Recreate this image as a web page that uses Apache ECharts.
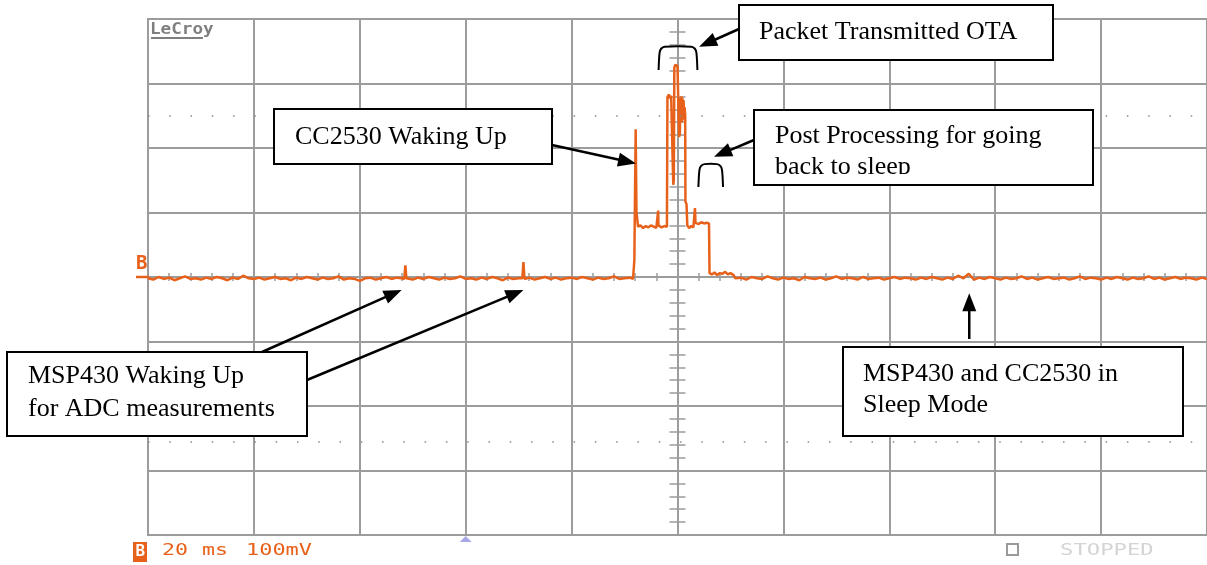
<!DOCTYPE html>
<html>
<head>
<meta charset="utf-8">
<style>
  html, body { margin: 0; padding: 0; background: #fff; }
  #chart { width: 1207px; height: 565px; }
</style>
<script src="https://cdn.jsdelivr.net/npm/echarts@6/dist/echarts.min.js"></script>
</head>
<body>
<div id="chart"></div>
<script>
// scope screen: 20 ms/div, 100 mV/div, 10 x 8 divisions
const timeRangeMs = [-100, 100]
const timePerDivMs = 20
const voltRangeMv = [-400, 400]
const voltPerDivMv = 100
const triggerTimeMs = -40
const dottedRowsMv = [250, -255]

// [time ms, mV]
const sleepBefore = [
  [-100, -2], [-99, -4], [-98, 0], [-97, -3], [-96, -1], [-95, -5], [-94, -2], [-93, 1], [-92, -3], [-91, -2],
  [-90, -4], [-89, -1], [-88, -3], [-87, 0], [-86, -2], [-85, -5], [-84, -1], [-83, -3], [-82, 2], [-81, -2],
  [-80, -3], [-79, -1], [-78, -4], [-77, -2], [-76, 0], [-75, -3], [-74, -2], [-73, -5], [-72, -1], [-71, -3],
  [-70, 0], [-69, -2], [-68, -4], [-67, -1], [-66, -3], [-65, -2], [-64, 1], [-63, -4], [-62, -2], [-61, -3],
  [-60, -6], [-59, -2], [-58, -1], [-57, -4], [-56, -2], [-55, 0], [-54, -3], [-53, -1], [-52, -2],
  [-50, -4], [-49, -1], [-48, -3], [-47, 0], [-46, -2], [-45, -4], [-44, -1], [-43, -3], [-42, -2], [-41, 1],
  [-40, -3], [-39, -2], [-38, -4], [-37, -1], [-36, -3], [-35, 0], [-34, -2], [-33, -5], [-32, -1], [-31, -3],
  [-30, -2], [-28, -1], [-27, -4], [-26, -2], [-25, 0], [-24, -3], [-23, -1], [-22, -4], [-21, -2],
  [-20, -1], [-19, -3], [-18, 0], [-17, -2], [-16, -4], [-15, -1], [-14, -3], [-13, -2], [-12, 1], [-11, -3],
  [-10, -2], [-9, -1], [-8.4, -3]
]

// MSP430 waking up for ADC measurements
const adcWakeSpikes = [
  [-51.6, -3], [-51.4, 18], [-51.2, -2],
  [-29.3, -2], [-29.1, 23], [-28.9, -3]
]

// CC2530 wake, packet OTA, post processing
const radioBurst = [
  [-8.2, -2], [-8.15, 26], [-7.95, 27], [-7.9, 229], [-7.8, 229], [-7.75, 101], [-7.5, 100], [-7.45, 78],
  [-7.0, 80], [-6.5, 76], [-6.0, 79], [-5.5, 77], [-5.0, 80], [-4.5, 78], [-4.0, 76], [-3.7, 79],
  [-3.65, 103], [-3.6, 80], [-3.0, 77], [-2.5, 79], [-2.0, 78], [-1.95, 80],
  [-1.9, 279], [-1.6, 283], [-1.4, 277], [-1.2, 281], [-0.95, 278], [-0.8, 143], [-0.7, 150],
  [-0.6, 325], [-0.4, 329], [0.0, 327], [0.25, 326], [0.3, 217], [0.45, 222],
  [0.55, 278], [0.65, 243], [0.75, 280], [0.85, 240], [0.95, 277], [1.05, 244], [1.15, 274], [1.25, 247],
  [1.35, 263], [1.45, 250], [1.5, 117], [1.7, 113], [1.85, 80],
  [2.2, 76], [2.6, 79], [3.0, 77], [3.25, 80], [3.3, 107], [3.4, 84], [4.0, 82], [4.5, 85], [5.0, 83],
  [5.5, 84], [5.95, 83], [6.05, 6], [6.5, 4], [7.0, 7], [7.5, 3], [8.0, 6], [8.5, 5], [9.0, 8],
  [9.5, 4], [10.0, 6], [10.6, 3], [10.9, -2]
]

const sleepAfter = [
  [11, -3], [12, -1], [13, -4], [14, 0], [15, -2], [16, -3], [17, 1], [18, -2], [19, -4], [20, -1],
  [21, -3], [22, -2], [23, -5], [24, 0], [25, -2], [26, -3], [27, -1], [28, -4], [29, -2], [30, 1],
  [31, -3], [32, -1], [33, -2], [34, -4], [35, 0], [36, -3], [37, -2], [38, -1], [39, -4], [40, -2],
  [41, 0], [42, -3], [43, -1], [44, -2], [45, -4], [46, -1], [47, -3], [48, 0], [49, -2], [50, -4],
  [51, -1], [52, -3], [53, 2], [54, -2], [55, 5], [56, -4], [57, -1], [58, -3], [59, 0], [60, -2],
  [61, -4], [62, -1], [63, -3], [64, -2], [65, 1], [66, -3], [67, -1], [68, -4], [69, -2], [70, 0],
  [71, -3], [72, -2], [73, -1], [74, -4], [75, -2], [76, 1], [77, -3], [78, -1], [79, -2], [80, -4],
  [81, -1], [82, -3], [83, 0], [84, -2], [85, -4], [86, -1], [87, -3], [88, -2], [89, 1], [90, -3],
  [91, -1], [92, -4], [93, -2], [94, 0], [95, -3], [96, -1], [97, -2], [98, -4], [99, -1], [100, -3]
]

const trace = [...sleepBefore, ...adcWakeSpikes, ...radioBurst, ...sleepAfter].sort((a, b) => a[0] - b[0])

const GRID = '#9c9c9c'
const ORANGE = '#e8611a'
const SERIF = '26px "Liberation Serif", "Times New Roman", serif'
const MONO = '"DejaVu Sans Mono", monospace'

const chart = echarts.init(document.getElementById('chart'))

function scopeAxis(range, step, extra) {
  return Object.assign({
    type: 'value',
    min: range[0],
    max: range[1],
    interval: step,
    axisLabel: { show: false },
    axisTick: { show: false },
  }, extra)
}

const centerTicks = (len) => ({ show: true, splitNumber: 5, length: len, lineStyle: { color: GRID, width: 1.5 } })

const option = {
  animation: false,
  backgroundColor: '#fff',
  grid: { left: 148, top: 19, width: 1064, height: 516, show: true, borderColor: GRID, borderWidth: 2 },
  xAxis: [
    scopeAxis(timeRangeMs, timePerDivMs, {
      axisLine: { onZero: true, onZeroAxisIndex: 0, lineStyle: { color: GRID, width: 2 } },
      minorTick: centerTicks(4),
      splitLine: { show: true, lineStyle: { color: GRID, width: 2 } },
    }),
    scopeAxis(timeRangeMs, timePerDivMs, {
      position: 'bottom',
      axisLine: { show: false, onZero: true, onZeroAxisIndex: 0 },
      axisTick: { show: false, inside: true },
      minorTick: centerTicks(4),
      splitLine: { show: false },
    }),
  ],
  yAxis: [
    scopeAxis(voltRangeMv, voltPerDivMv, {
      axisLine: { onZero: true, onZeroAxisIndex: 0, lineStyle: { color: GRID, width: 2 } },
      minorTick: centerTicks(8),
      splitLine: { show: true, lineStyle: { color: GRID, width: 2 } },
    }),
    scopeAxis(voltRangeMv, voltPerDivMv, {
      position: 'left',
      axisLine: { show: false, onZero: true, onZeroAxisIndex: 0 },
      axisTick: { show: false, inside: true },
      minorTick: centerTicks(8),
      splitLine: { show: false },
    }),
  ],
  series: [
    {
      type: 'line',
      data: trace,
      showSymbol: false,
      lineStyle: { color: ORANGE, width: 2.5 },
      markLine: {
        silent: true,
        symbol: ['none', 'none'],
        label: { show: false },
        lineStyle: { color: '#8a8a8a', width: 1.5, type: [1.5, 19.78] },
        data: dottedRowsMv.map(v => ({ yAxis: v })),
      },
    },
  ],
}

chart.setOption(option)

// annotations, placed after layout
const px = (t, v) => chart.convertToPixel({ gridIndex: 0 }, [t, v])

function arrow(from, to) {
  const dx = to[0] - from[0], dy = to[1] - from[1]
  const len = Math.hypot(dx, dy)
  const ux = dx / len, uy = dy / len
  const headLen = 18, headW = 7
  const bx = to[0] - ux * headLen, by = to[1] - uy * headLen
  return [
    { type: 'line', z: 100, shape: { x1: from[0], y1: from[1], x2: bx + ux * 2, y2: by + uy * 2 }, style: { stroke: '#000', lineWidth: 2.5 } },
    { type: 'polygon', z: 100, shape: { points: [to, [bx - uy * headW, by + ux * headW], [bx + uy * headW, by - ux * headW]] }, style: { fill: '#000' } },
  ]
}

function box(x, y, w, h, textX, lines) {
  const els = [{ type: 'rect', z: 100, shape: { x, y, width: w, height: h }, style: { fill: '#fff', stroke: '#000', lineWidth: 2 } }]
  lines.forEach(([txt, cy]) => {
    els.push({ type: 'text', z: 101, x: textX, y: cy, style: { text: txt, font: SERIF, fill: '#000', verticalAlign: 'middle' } })
  })
  return els
}

// rounded bracket over a stretch of the trace
function bracket(t1, t2, vTop, vBottom) {
  const [x1, yb] = px(t1, vBottom)
  const [x2, yt] = px(t2, vTop)
  const pts = [
    [x1, yb], [x1 + 1, yt + 6], [x1 + 2.5, yt + 2], [x1 + 6, yt],
    [x2 - 6, yt], [x2 - 2.5, yt + 2], [x2 - 1, yt + 6], [x2, yb],
  ]
  return { type: 'polyline', z: 100, shape: { points: pts, smooth: 0.3 }, style: { stroke: '#000', lineWidth: 2, fill: null } }
}

function monoText(txt, x, cy, size, scaleX, color, weight) {
  return { type: 'text', z: 100, x, y: cy, scaleX, style: { text: txt, x: 0, y: 0, font: `${weight || 'normal'} ${size}px ${MONO}`, fill: color, verticalAlign: 'middle' } }
}

const zero = px(0, 0)
const trig = px(triggerTimeMs, voltRangeMv[0])
const sleepTip = px(55.1, -25)

const graphics = [
  // scope decorations
  monoText('LeCroy', 150, 30, 16, 1.1, '#7f7f7f', 'bold'),
  { type: 'line', z: 100, shape: { x1: 151, y1: 38, x2: 203, y2: 38 }, style: { stroke: '#7f7f7f', lineWidth: 2 } },
  monoText('B', 136, zero[1] - 13, 19, 1, ORANGE, 'bold'),
  { type: 'line', z: 100, shape: { x1: 136, y1: zero[1], x2: 149, y2: zero[1] }, style: { stroke: ORANGE, lineWidth: 2.5 } },
  { type: 'polygon', z: 100, shape: { points: [[trig[0] - 6, trig[1] + 7], [trig[0] + 6, trig[1] + 7], [trig[0], trig[1] + 1]] }, style: { fill: '#a8a8e8' } },
  { type: 'rect', z: 100, shape: { x: 133, y: 542, width: 14, height: 20 }, style: { fill: ORANGE } },
  monoText('B', 135.5, 552, 16, 1, '#fff', 'bold'),
  monoText('20', 162, 551, 16, 1.35, ORANGE),
  monoText('ms', 202, 551, 16, 1.35, ORANGE),
  monoText('100mV', 246, 551, 16, 1.37, ORANGE),
  { type: 'rect', z: 100, shape: { x: 1007, y: 544, width: 11, height: 11 }, style: { fill: null, stroke: '#9a9a9a', lineWidth: 2 } },
  monoText('STOPPED', 1060, 551, 16, 1.39, '#d4d4d4'),

  // annotation boxes
  ...box(739, 5, 314, 55, 759, [['Packet Transmitted OTA', 32.2]]),
  ...box(754, 110, 339, 75, 775, [['Post Processing for going', 136.5], ['back to sleep', 167.5]]),
  { type: 'rect', z: 102, shape: { x: 756, y: 174, width: 335, height: 10 }, style: { fill: '#fff' } },
  { type: 'rect', z: 103, shape: { x: 754, y: 110, width: 339, height: 75 }, style: { fill: null, stroke: '#000', lineWidth: 2 } },
  ...box(274, 109, 278, 55, 295, [['CC2530 Waking Up', 137.5]]),
  ...box(7, 352, 300, 84, 28, [['MSP430 Waking Up', 376.5], ['for ADC measurements', 408.8]]),
  ...box(843, 347, 340, 89, 863, [['MSP430 and CC2530 in', 374.2], ['Sleep Mode', 404.8]]),

  bracket(-3.57, 3.76, 357, 321),
  bracket(3.95, 8.6, 175, 139.5),

  ...arrow([739, 29], px(4.08, 357)),
  ...arrow([754, 140], px(6.9, 186.5)),
  ...arrow([552, 145], px(-7.84, 176)),
  ...arrow([262, 352], px(-52.1, -20)),
  ...arrow([307, 380], px(-29.1, -20)),
  ...arrow([sleepTip[0], 339], sleepTip),
]

chart.setOption({ graphic: { elements: graphics } })
</script>
</body>
</html>
